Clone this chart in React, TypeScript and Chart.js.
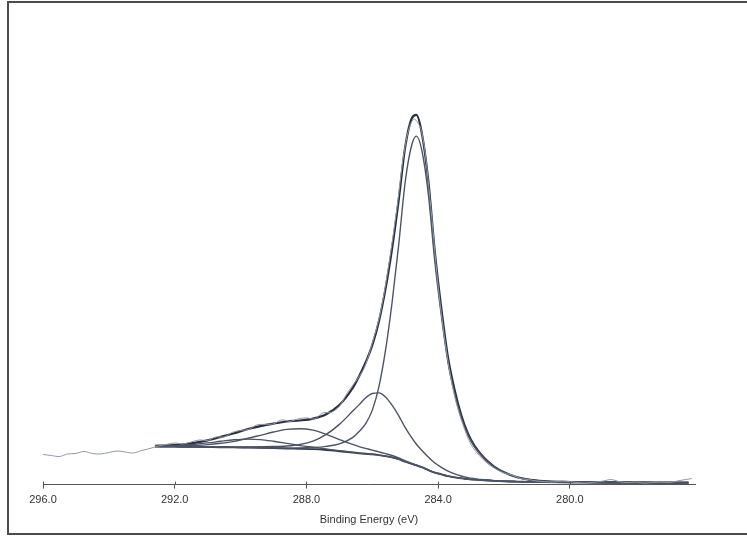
import React, { useEffect, useRef } from "react";
import { Chart, registerables } from "chart.js";

Chart.register(...registerables);

// x-axis ticks (Binding Energy, eV)
const tickValues = [296, 292, 288, 284, 280];

// raw spectrum
const rawEnergy = [
  296.0, 295.75, 295.5, 295.25, 295.0, 294.75, 294.5, 294.25, 294.0, 293.75,
  293.5, 293.25, 293.0, 292.75, 292.5, 292.25, 292.0, 291.75, 291.5, 291.25,
  291.0, 290.75, 290.5, 290.25, 290.0, 289.75, 289.5, 289.25, 289.0, 288.75,
  288.5, 288.25, 288.0, 287.75, 287.5, 287.25, 287.0, 286.75, 286.5, 286.25,
  286.0, 285.75, 285.5, 285.25, 285.0, 284.75, 284.5, 284.25, 284.0, 283.75,
  283.5, 283.25, 283.0, 282.75, 282.5, 282.25, 282.0, 281.75, 281.5, 281.25,
  281.0, 280.75, 280.5, 280.25, 280.0, 279.75, 279.5, 279.25, 279.0, 278.75,
  278.5, 278.25, 278.0, 277.75, 277.5, 277.25, 277.0, 276.75, 276.5, 276.3,
];
const rawCounts = [
  30, 29, 28, 30.5, 31, 33, 31, 30.5, 32, 33.5,
  32.5, 31.5, 34, 36, 38.5, 40, 41.5, 40.5, 42.5, 44.5,
  44, 47.5, 47.5, 52, 54, 55, 59.5, 60, 60.5, 64.5,
  63, 65.5, 66.5, 65.5, 71.5, 72, 78, 92, 103, 116,
  141, 172, 219, 276, 338, 364, 352, 285, 198, 133,
  88, 60, 40, 29, 21, 15.5, 11.5, 9.5, 6, 5,
  3.5, 3, 2.5, 3.5, 3, 2, 1.5, 2.5, 3.5, 5,
  3, 2, 2.5, 1.5, 2, 2.5, 2, 3.5, 5, 6,
];

// fitted curves (shared energy grid)
const fitEnergy = [
  292.6, 292.2, 291.8, 291.4, 291.0, 290.6, 290.2, 289.8, 289.4, 289.0,
  288.6, 288.2, 287.8, 287.4, 287.0, 286.6, 286.4, 286.2, 286.0, 285.8,
  285.6, 285.4, 285.2, 285.0, 284.8, 284.66, 284.5, 284.3, 284.1, 283.9,
  283.7, 283.5, 283.3, 283.1, 282.9, 282.6, 282.3, 282.0, 281.6, 281.2,
  280.8, 280.2, 279.4, 278.4, 277.4, 276.4,
];
const backgroundCounts = [
  38.0, 37.9, 37.7, 37.6, 37.4, 37.2, 37.1, 36.9, 36.7, 36.4,
  36.0, 35.7, 35.3, 34.5, 33.3, 32.0, 31.3, 30.7, 30.2, 29.4,
  28.4, 27.2, 25.3, 22.8, 20.6, 19.2, 17.3, 14.5, 12.0, 10.2,
  8.4, 7.2, 6.3, 5.5, 5.0, 4.3, 3.7, 3.3, 3.0, 2.7,
  2.5, 2.3, 2.2, 2.1, 2.0, 2.0,
];
const peak284Counts = [
  38.0, 37.9, 37.7, 37.6, 37.4, 37.2, 37.1, 36.9, 36.7, 36.5,
  36.3, 36.4, 36.9, 38.1, 40.5, 46.8, 52.9, 60.7, 74.2, 97.4,
  133.4, 181.2, 238.3, 301.8, 338.6, 347.2, 333.8, 290.0, 222.0, 167.6,
  121.4, 90.8, 67.0, 49.8, 37.8, 25.9, 17.8, 12.2, 7.3, 4.7,
  3.5, 2.7, 2.3, 2.1, 2.0, 2.0,
];
const peak286Counts = [
  38.0, 37.9, 37.7, 37.7, 37.6, 37.5, 37.6, 37.6, 37.7, 37.9,
  38.5, 40.0, 43.3, 50.0, 60.0, 73.0, 79.7, 86.5, 90.8, 91.4,
  87.4, 79.2, 68.8, 56.8, 46.6, 40.2, 34.3, 27.5, 21.5, 17.2,
  13.4, 10.7, 8.6, 7.0, 6.0, 4.8, 3.9, 3.4, 3.0, 2.7,
  2.5, 2.3, 2.2, 2.1, 2.0, 2.0,
];
const peak288Counts = [
  38.2, 38.3, 38.5, 39.0, 39.8, 41.2, 43.1, 45.9, 49.1, 52.4,
  55.0, 55.7, 54.3, 50.1, 44.9, 40.0, 37.9, 36.1, 34.4, 32.6,
  30.8, 29.0, 26.5, 23.6, 21.1, 19.5, 17.5, 14.6, 12.0, 10.2,
  8.4, 7.2, 6.3, 5.5, 5.0, 4.3, 3.7, 3.3, 3.0, 2.7,
  2.5, 2.3, 2.2, 2.1, 2.0, 2.0,
];
const peak290Counts = [
  38.4, 38.7, 39.1, 40.1, 41.5, 43.2, 44.7, 45.4, 44.9, 43.2,
  41.1, 38.9, 37.2, 35.5, 33.8, 32.2, 31.4, 30.7, 30.2, 29.4,
  28.4, 27.2, 25.3, 22.8, 20.6, 19.2, 17.3, 14.5, 12.0, 10.2,
  8.4, 7.2, 6.3, 5.5, 5.0, 4.3, 3.7, 3.3, 3.0, 2.7,
  2.5, 2.3, 2.2, 2.1, 2.0, 2.0,
];
const envelopeCounts = [
  38.6, 39.1, 39.9, 41.6, 44.1, 47.5, 51.2, 55.1, 58.3, 60.8,
  62.9, 63.9, 65.8, 70.2, 79.3, 96.0, 108.0, 121.9, 139.0, 162.6,
  194.8, 235.0, 283.0, 336.6, 365.1, 368.5, 351.0, 303.1, 231.5, 174.6,
  126.4, 94.3, 69.3, 51.3, 38.8, 26.4, 18.0, 12.3, 7.3, 4.7,
  3.5, 2.7, 2.3, 2.1, 2.0, 2.0,
];

const FONT = "'Liberation Sans', Arial, sans-serif";

export default function App() {
  const ref = useRef<HTMLCanvasElement>(null);

  useEffect(() => {
    if (!ref.current) return;
    const pts = (xs: number[], ys: number[]) => xs.map((x, i) => ({ x, y: ys[i] }));
    const compColor = "#4c5366";

    const crossTicks = {
      id: "crossTicks",
      afterDraw(chart: any) {
        const sc = chart.scales.x;
        const c = chart.ctx;
        const b = chart.chartArea.bottom;
        c.save();
        c.strokeStyle = "#555";
        c.lineWidth = 1;
        tickValues.forEach((v) => {
          const px = Math.round(sc.getPixelForValue(v)) + 0.5;
          c.beginPath();
          c.moveTo(px, b - 3);
          c.lineTo(px, b);
          c.stroke();
        });
        c.restore();
      },
    };

    const chart = new Chart(ref.current, {
      type: "line",
      data: {
        datasets: [
          {
            label: "raw",
            data: pts(rawEnergy, rawCounts),
            borderColor: "#9198a8",
            borderWidth: 1,
            tension: 0.35,
          },
          {
            label: "C1 284.7",
            data: pts(fitEnergy, peak284Counts),
            borderColor: compColor,
            borderWidth: 1.4,
            cubicInterpolationMode: "monotone",
          },
          {
            label: "C2 285.8",
            data: pts(fitEnergy, peak286Counts),
            borderColor: compColor,
            borderWidth: 1.4,
            cubicInterpolationMode: "monotone",
          },
          {
            label: "C3 288.2",
            data: pts(fitEnergy, peak288Counts),
            borderColor: compColor,
            borderWidth: 1.4,
            cubicInterpolationMode: "monotone",
          },
          {
            label: "C4 289.7",
            data: pts(fitEnergy, peak290Counts),
            borderColor: compColor,
            borderWidth: 1.3,
            cubicInterpolationMode: "monotone",
          },
          {
            label: "background",
            data: pts(fitEnergy, backgroundCounts),
            borderColor: "#343a49",
            borderWidth: 1.9,
            cubicInterpolationMode: "monotone",
          },
          {
            label: "envelope",
            data: pts(fitEnergy, envelopeCounts),
            borderColor: "#2a2f3c",
            borderWidth: 2.2,
            cubicInterpolationMode: "monotone",
          },
        ] as any,
      },
      options: {
        responsive: false,
        animation: false,
        devicePixelRatio: 1,
        layout: { padding: { left: 43, right: 52, top: 33, bottom: 12 } },
        elements: { point: { radius: 0 }, line: { fill: false } },
        plugins: { legend: { display: false }, tooltip: { enabled: false } },
        scales: {
          x: {
            type: "linear",
            reverse: true,
            min: 276.2,
            max: 296,
            afterBuildTicks: (axis: any) => {
              axis.ticks = tickValues.map((v) => ({ value: v }));
            },
            ticks: {
              autoSkip: false,
              maxRotation: 0,
              padding: 5,
              color: "#333",
              font: { family: FONT, size: 11 },
              callback: (v: any) => Number(v).toFixed(1),
            },
            grid: { drawOnChartArea: false, tickLength: 4, color: "#555" },
            border: { color: "#555", width: 1 },
            title: {
              display: true,
              text: "Binding Energy (eV)",
              color: "#333",
              font: { family: FONT, size: 11 },
              padding: { top: 2, bottom: 0 },
            },
          },
          y: { display: false, min: 0, max: 450 },
        },
      },
      plugins: [crossTicks],
    } as any);
    return () => chart.destroy();
  }, []);

  return (
    <div
      style={{
        position: "fixed",
        left: 0,
        top: 0,
        width: 747,
        height: 539,
        overflow: "hidden",
        background: "#fff",
      }}
    >
      <canvas
        ref={ref}
        width={747}
        height={539}
        style={{ position: "absolute", left: 0, top: 0, width: 747, height: 539 }}
      />
      <div
        style={{
          position: "absolute",
          left: 7,
          top: 1,
          width: 760,
          height: 534,
          border: "2px solid #4b4b52",
          boxSizing: "border-box",
          pointerEvents: "none",
        }}
      />
    </div>
  );
}
